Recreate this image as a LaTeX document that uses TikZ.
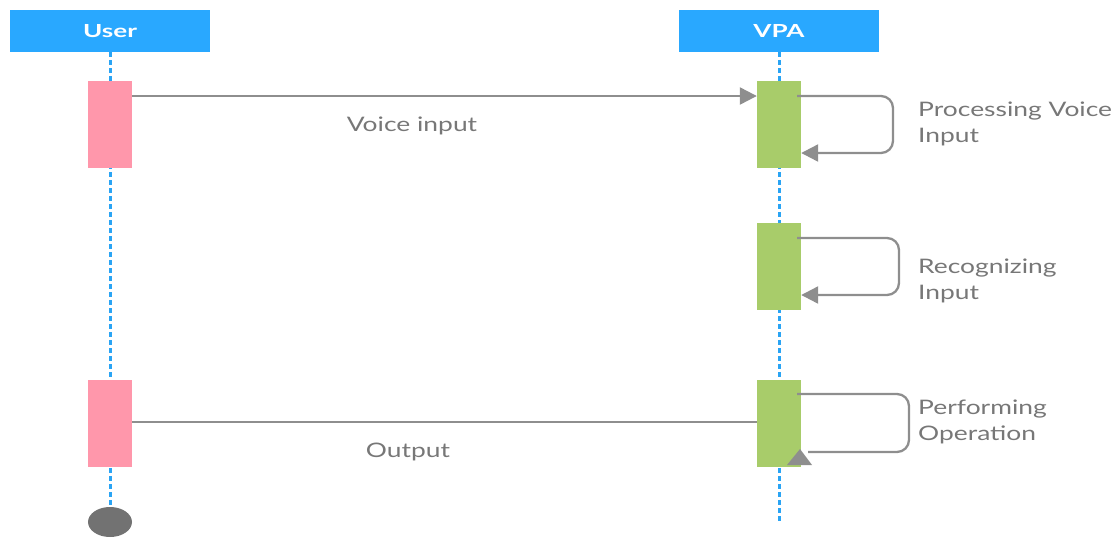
\documentclass[tikz,border=0pt]{standalone}
\usepackage{fontspec}
\usepackage{graphicx}
\setmainfont{Lato}
\usetikzlibrary{arrows.meta,shapes.geometric}
\definecolor{headblue}{HTML}{29A8FF}
\definecolor{lifeblue}{HTML}{2AA4F4}
\definecolor{actpink}{HTML}{FF97AB}
\definecolor{actgreen}{HTML}{A8CC6A}
\definecolor{msggray}{HTML}{8E8E8E}
\definecolor{txtgray}{HTML}{777777}
\definecolor{endgray}{HTML}{727272}
% widened lettering used for all captions
\newcommand{\widetext}[1]{\scalebox{1.32}[1]{#1}}
\newcommand{\widehead}[1]{\scalebox{1.45}[1]{#1}}
\tikzset{
  header/.style={fill=headblue, draw=none, minimum width=200pt, minimum height=42pt,
    inner sep=0pt, text=white, font=\bfseries\fontsize{18}{20}\selectfont},
  lifeline/.style={draw=lifeblue, line width=3pt, dash pattern=on 5pt off 3pt},
  userbar/.style={fill=actpink, draw=none, minimum width=44pt, minimum height=87pt, inner sep=0pt},
  vpabar/.style={fill=actgreen, draw=none, minimum width=44pt, minimum height=87pt, inner sep=0pt},
  msg/.style={draw=msggray, line width=2.3pt},
  tip/.style={-{Triangle[length=17pt,width=17pt]}},
  loop/.style={draw=msggray, line width=2.3pt, rounded corners=12pt},
  lbl/.style={text=txtgray, font=\fontsize{20}{26}\selectfont, inner sep=0pt},
  note/.style={lbl, align=left, anchor=west}
}
\begin{document}
\begin{tikzpicture}[x=1pt,y=-1pt]
\useasboundingbox (0,0) rectangle (1113,538);

% participants
\node[header] (user) at (110,31) {\widehead{User}};
\node[header] (vpa) at (779,31) {\widehead{VPA}};

% lifelines
\coordinate (userend) at (110,510);
\coordinate (vpaend) at (779,522);
\draw[lifeline] (user.south) -- (userend);
\draw[lifeline] (vpa.south) -- (vpaend);

% end marker
\node[fill=endgray, draw=none, ellipse, minimum width=44pt, minimum height=30pt, inner sep=0pt] (stop) at (110,522) {};

% activation bars
\node[userbar] (u1) at (110,124) {};
\node[userbar] (u2) at (110,423) {};
\node[vpabar] (v1) at (779,124) {};
\node[vpabar] (v2) at (779,266.5) {};
\node[vpabar] (v3) at (779,423) {};

% voice input message
\draw[msg, tip] (u1.east |- 0,96) -- (v1.west |- 0,96);
\node[lbl] (voicelbl) at (412,126) {\widetext{Voice input}};

% output message
\draw[msg] (u2.east |- 0,422) -- (v3.west |- 0,422);
\node[lbl] (outlbl) at (408,452) {\widetext{Output}};

% self calls
\draw[loop, tip] (797,96) -- (893,96) -- (893,153) -- (v1.east |- 0,153);
\node[note] (n1) at (918,124) {\widetext{Processing Voice}\\\widetext{Input}};

\draw[loop, tip] (797,238) -- (899,238) -- (899,295) -- (v2.east |- 0,295);
\node[note] (n2) at (918,281) {\widetext{Recognizing}\\\widetext{Input}};

\draw[loop] (797,394) -- (909,394) -- (909,452) -- (808,452);
\fill[msggray] (800,449) -- (812,465) -- (787,465) -- cycle;
\node[note] (n3) at (918,422) {\widetext{Performing}\\\widetext{Operation}};
\end{tikzpicture}
\end{document}
